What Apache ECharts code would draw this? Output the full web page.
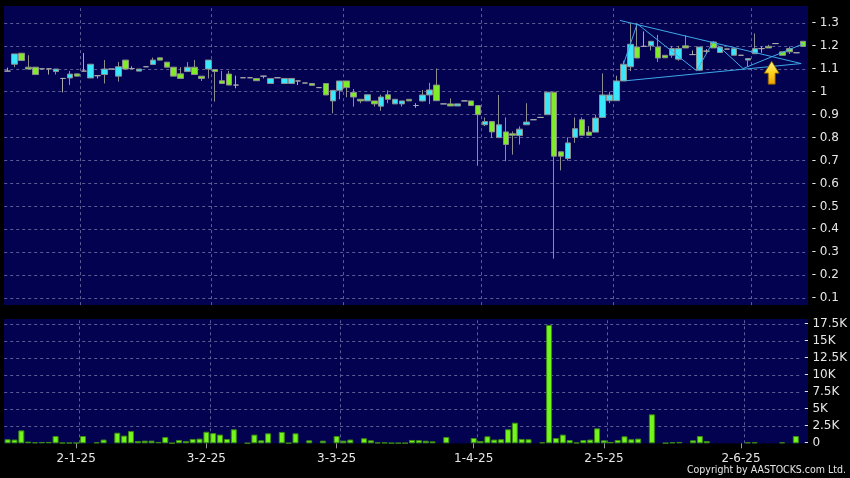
<!DOCTYPE html>
<html><head><meta charset="utf-8">
<script src="https://cdn.jsdelivr.net/npm/echarts/dist/echarts.min.js"></script>
<style>html,body{margin:0;padding:0;background:#000;}#c{width:850px;height:478px;}</style>
</head><body><div id="c"></div>
<script>
// trading days (d-m-yy)
const dates = [
'16-12-24','17-12-24','18-12-24','19-12-24','20-12-24','23-12-24','24-12-24','27-12-24','30-12-24','31-12-24',
'2-1-25','3-1-25','6-1-25','7-1-25','8-1-25','9-1-25','10-1-25','13-1-25','14-1-25','15-1-25','16-1-25','17-1-25','20-1-25','21-1-25','22-1-25','23-1-25','24-1-25','27-1-25','28-1-25',
'3-2-25','4-2-25','5-2-25','6-2-25','7-2-25','10-2-25','11-2-25','12-2-25','13-2-25','14-2-25','17-2-25','18-2-25','19-2-25','20-2-25','21-2-25','24-2-25','25-2-25','26-2-25','27-2-25',
'3-3-25','4-3-25','5-3-25','6-3-25','7-3-25','10-3-25','11-3-25','12-3-25','13-3-25','14-3-25','17-3-25','18-3-25','19-3-25','20-3-25','21-3-25','24-3-25','25-3-25','26-3-25','27-3-25','28-3-25',
'1-4-25','2-4-25','3-4-25','7-4-25','8-4-25','9-4-25','10-4-25','11-4-25','14-4-25','15-4-25','16-4-25','17-4-25','22-4-25','23-4-25','24-4-25','25-4-25','28-4-25','29-4-25','30-4-25',
'2-5-25','6-5-25','7-5-25','8-5-25','9-5-25','12-5-25','13-5-25','14-5-25','15-5-25','16-5-25','19-5-25','20-5-25','21-5-25','22-5-25','23-5-25','26-5-25','27-5-25','28-5-25','29-5-25','30-5-25',
'2-6-25','3-6-25','4-6-25','5-6-25','6-6-25','9-6-25','10-6-25','11-6-25','12-6-25'
];
const tickLabels = ['2-1-25','3-2-25','3-3-25','1-4-25','2-5-25','2-6-25'];

// [open, close, low, high]
const candles = [
[1.09,1.09,1.09,1.105],[1.12,1.165,1.107,1.165],[1.168,1.136,1.136,1.168],[1.107,1.099,1.099,1.159],[1.107,1.075,1.075,1.107],
[1.10,1.10,1.10,1.10],[1.10,1.10,1.075,1.10],[1.088,1.099,1.075,1.099],[1.058,1.058,0.997,1.058],[1.06,1.077,1.029,1.091],
[1.078,1.068,1.068,1.078],[1.09,1.09,1.09,1.169],[1.06,1.12,1.06,1.12],[1.07,1.07,1.058,1.07],[1.075,1.099,1.036,1.138],
[1.099,1.099,1.099,1.099],[1.068,1.109,1.044,1.13],[1.138,1.099,1.099,1.138],[1.101,1.101,1.101,1.111],[1.09,1.099,1.09,1.099],
[1.109,1.109,1.109,1.109],[1.119,1.138,1.119,1.149],[1.148,1.138,1.138,1.148],[1.129,1.107,1.107,1.129],[1.107,1.068,1.068,1.107],
[1.078,1.058,1.058,1.107],[1.088,1.107,1.088,1.129],[1.107,1.075,1.075,1.138],[1.068,1.058,1.047,1.068],[1.099,1.138,1.058,1.138],
[1.097,1.088,0.957,1.097],[1.048,1.036,1.036,1.091],[1.077,1.029,1.029,1.091],[1.029,1.029,1.015,1.07],[1.061,1.061,1.061,1.061],
[1.061,1.061,1.061,1.061],[1.058,1.048,1.048,1.058],[1.068,1.068,1.058,1.068],[1.036,1.058,1.036,1.058],[1.061,1.061,1.061,1.061],
[1.036,1.058,1.036,1.058],[1.036,1.058,1.036,1.058],[1.047,1.047,1.029,1.047],[1.038,1.038,1.038,1.038],[1.036,1.028,1.028,1.036],
[1.018,1.018,1.018,1.018],[1.036,0.986,0.986,1.036],[0.96,1.006,0.906,1.006],[1.006,1.047,0.967,1.047],[1.047,1.018,0.976,1.047],
[0.997,0.977,0.935,1.012],[0.967,0.96,0.95,0.967],[0.96,0.987,0.96,0.987],[0.96,0.947,0.935,0.96],[0.937,0.977,0.917,0.987],
[0.987,0.967,0.95,1.006],[0.947,0.967,0.947,0.967],[0.947,0.96,0.935,0.96],[0.967,0.96,0.96,0.967],[0.94,0.94,0.93,0.95],
[0.96,0.986,0.957,1.008],[0.986,1.008,0.946,1.039],[1.029,0.961,0.961,1.101],[0.947,0.947,0.947,0.947],[0.947,0.938,0.938,0.971],
[0.938,0.947,0.938,0.947],[0.96,0.96,0.96,0.96],[0.96,0.94,0.94,0.96],[0.94,0.90,0.677,0.94],[0.856,0.87,0.85,0.888],
[0.87,0.825,0.798,0.87],[0.80,0.856,0.80,0.986],[0.825,0.77,0.697,0.888],[0.817,0.81,0.726,0.827],[0.809,0.837,0.77,0.849],
[0.856,0.868,0.856,0.95],[0.878,0.878,0.878,0.878],[0.888,0.888,0.888,0.888],[0.90,0.998,0.90,0.998],[0.998,0.719,0.272,0.998],
[0.738,0.719,0.657,0.738],[0.709,0.777,0.70,0.801],[0.801,0.839,0.777,0.888],[0.878,0.81,0.81,0.888],[0.824,0.81,0.81,0.85],
[0.824,0.885,0.824,0.90],[0.888,0.986,0.888,1.08],[0.961,0.986,0.95,1.0],[0.961,1.047,0.961,1.07],[1.047,1.12,1.047,1.135],
[1.109,1.207,1.09,1.30],[1.195,1.147,1.147,1.30],[1.198,1.198,1.198,1.263],[1.20,1.22,1.18,1.22],[1.195,1.147,1.13,1.248],
[1.159,1.148,1.148,1.159],[1.159,1.188,1.148,1.2],[1.142,1.188,1.135,1.2],[1.2,1.191,1.191,1.246],[1.162,1.162,1.162,1.18],
[1.094,1.195,1.09,1.195],[1.177,1.177,1.168,1.186],[1.217,1.191,1.191,1.217],[1.171,1.195,1.171,1.195],[1.186,1.186,1.186,1.186],
[1.159,1.188,1.159,1.188],[1.159,1.159,1.159,1.159],[1.138,1.145,1.109,1.145],[1.166,1.188,1.166,1.254],[1.188,1.188,1.17,1.198],
[1.198,1.191,1.191,1.205],[1.21,1.21,1.21,1.21],[1.174,1.159,1.159,1.174],[1.188,1.174,1.165,1.197],[1.17,1.17,1.17,1.17],
[1.22,1.198,1.198,1.22]
];

const volumes = [
600,550,1900,250,150,200,200,1070,80,80,
80,1070,0,150,550,0,1560,1130,1800,340,
390,390,200,930,50,490,340,640,690,1700,
1500,1280,640,2060,0,30,1280,440,1470,0,
1670,50,1470,0,440,0,390,0,1070,390,
550,0,740,440,120,120,50,50,50,490,
460,380,290,0,930,0,0,0,780,340,
1030,550,600,2060,3030,640,600,0,150,17400,
780,1280,490,100,490,550,2200,440,200,490,
1030,600,690,0,4260,0,50,150,200,0,
440,1070,340,0,0,0,0,0,150,150,
0,0,0,150,0,1070
];

// trend-line drawings: [day index (fractional), price]
const upperTrend = [[88.5,1.311],[114.7,1.123]];
const lowerTrend = [[89.4,1.048],[114.7,1.123]];
const zigzag = [[89.0,1.119],[91.0,1.296],[99.6,1.091],[102.0,1.22],[106.3,1.101],[115.0,1.209]];
const arrowPoint = [[110.44,1.083]];

const FONT = 'DejaVu Sans';
const GRIDC = '#5c5c94';
const NAVY = '#020250';
const TEXTC = '#e6e6e6';
const TRANS = 'rgba(0,0,0,0)';
const xMax = dates.length - 0.5;
const gridIdx = tickLabels.map(t => dates.indexOf(t));
const isTick = (i, v) => tickLabels.indexOf(v) >= 0;
const priceSplit = Array.from({length: 15}, (_, i) => (i === 0 || i === 14) ? TRANS : GRIDC);
const volSplit = [TRANS, GRIDC, GRIDC, GRIDC, GRIDC, GRIDC, GRIDC, GRIDC, TRANS];
const VOL_TOP = 18280;
const PANEL_LO = 0.0697, PANEL_HI = 1.364;

const labelBase = {color: TEXTC, fontSize: 12, fontFamily: FONT, margin: 5};

const vLines = (lo, hi) => gridIdx.map(i => [{coord: [i + 0.5, lo]}, {coord: [i + 0.5, hi]}]);

const chart = echarts.init(document.getElementById('c'), null, {renderer: 'canvas'});
chart.setOption({
  animation: false,
  backgroundColor: '#000',
  graphic: [
    {type: 'rect', z: -10, silent: true, shape: {x: 4, y: 6, width: 804, height: 299}, style: {fill: NAVY}},
    {type: 'rect', z: -10, silent: true, shape: {x: 4, y: 319, width: 804, height: 124.5}, style: {fill: NAVY}},
    {type: 'text', right: 4, top: 465, silent: true,
     style: {text: 'Copyright by AASTOCKS.com Ltd.', fill: TEXTC, font: '10.5px "DejaVu Sans Condensed"'}}
  ],
  grid: [
    {left: 4.2, width: 802.5, top: -2.3, height: 323.4},
    {left: 4.2, width: 802.5, top: 319, height: 124.3}
  ],
  xAxis: [
    {type: 'category', gridIndex: 0, data: dates, axisLine: {show: false}, axisTick: {show: false}, axisLabel: {show: false}, splitLine: {show: false}},
    {type: 'category', gridIndex: 1, data: dates, axisLine: {show: false},
     axisTick: {show: true, alignWithLabel: true, interval: isTick, length: 5, lineStyle: {color: '#9a9a9a'}},
     axisLabel: {show: true, interval: isTick, color: TEXTC, fontSize: 12, fontFamily: FONT, margin: 10},
     splitLine: {show: false}},
    {type: 'value', gridIndex: 0, min: -0.5, max: xMax, show: false},
    {type: 'value', gridIndex: 1, min: -0.5, max: xMax, show: false}
  ],
  yAxis: [
    {type: 'value', gridIndex: 0, position: 'right', min: 0, max: 1.4, interval: 0.1,
     axisLine: {show: false}, axisTick: {show: false},
     axisLabel: Object.assign({}, labelBase, {formatter: v => (v < 0.05 || v > 1.35) ? '' : '- ' + (Math.round(v * 10) / 10)}),
     splitLine: {show: true, lineStyle: {color: priceSplit, type: [3, 3], width: 1}}},
    {type: 'value', gridIndex: 1, position: 'right', min: 0, max: VOL_TOP, interval: 2500,
     axisLine: {show: false}, axisTick: {show: false},
     axisLabel: Object.assign({}, labelBase, {formatter: v => v > 17600 ? '' : '- ' + (v === 0 ? '0' : (v / 1000) + 'K')}),
     splitLine: {show: true, lineStyle: {color: volSplit, type: [3, 3], width: 1}}}
  ],
  series: [
    {type: 'line', xAxisIndex: 2, yAxisIndex: 0, data: [], silent: true,
     markLine: {z: 1, silent: true, symbol: ['none', 'none'], label: {show: false},
       lineStyle: {color: GRIDC, type: [3, 3], width: 1}, data: vLines(PANEL_LO, PANEL_HI)}},
    {type: 'line', xAxisIndex: 3, yAxisIndex: 1, data: [], silent: true,
     markLine: {z: 1, silent: true, symbol: ['none', 'none'], label: {show: false},
       lineStyle: {color: GRIDC, type: [3, 3], width: 1}, data: vLines(0, VOL_TOP)}},
    {type: 'candlestick', xAxisIndex: 0, yAxisIndex: 0, data: candles, barWidth: 6, silent: true,
     itemStyle: {color: '#3ae6fa', color0: '#80ec28', borderColor: '#8e8e8e', borderColor0: '#8e8e8e', borderColorDoji: '#a9a9a9', borderWidth: 1}},
    {type: 'bar', xAxisIndex: 1, yAxisIndex: 1, data: volumes.map(v => v || '-'), barWidth: 6, silent: true,
     itemStyle: {color: '#74f51c', borderColor: '#3c8a14', borderWidth: 1}},
    {type: 'line', xAxisIndex: 2, yAxisIndex: 0, data: upperTrend, symbol: 'none', silent: true, z: 4, lineStyle: {color: '#3fa8e8', width: 1}},
    {type: 'line', xAxisIndex: 2, yAxisIndex: 0, data: lowerTrend, symbol: 'none', silent: true, z: 4, lineStyle: {color: '#3fa8e8', width: 1}},
    {type: 'line', xAxisIndex: 2, yAxisIndex: 0, data: zigzag, symbol: 'none', silent: true, z: 4, lineStyle: {color: '#3fa8e8', width: 1}},
    {type: 'scatter', xAxisIndex: 2, yAxisIndex: 0, data: arrowPoint, silent: true, z: 5,
     symbol: 'path://M7.5,0 L15,12 L11,12 L11,23 L4,23 L4,12 L0,12 Z', symbolSize: [15, 23],
     itemStyle: {opacity: 1, color: new echarts.graphic.LinearGradient(0, 0, 0, 1, [{offset: 0, color: '#fff48a'}, {offset: 0.5, color: '#ffd21e'}, {offset: 1, color: '#f0a000'}]),
       borderColor: '#7a5a00', borderWidth: 0.8}}
  ]
});
</script></body></html>
